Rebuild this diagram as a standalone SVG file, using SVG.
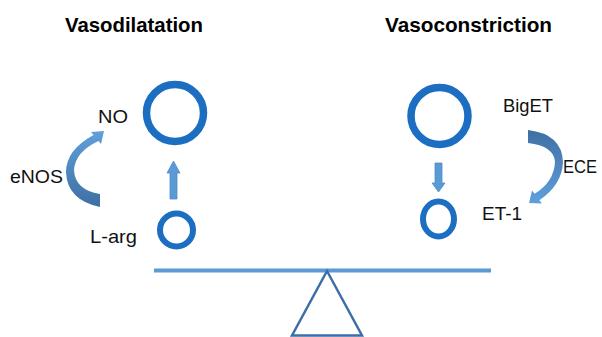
<svg xmlns="http://www.w3.org/2000/svg" width="602" height="337" viewBox="0 0 602 337">
<defs>
<style>
.title{font-family:"Liberation Sans",Arial,sans-serif;font-weight:bold;font-size:21px;fill:#000}
.lbl{font-family:"Liberation Sans",Arial,sans-serif;font-size:19px;fill:#111}
.ring{fill:none;stroke:#1b6ec2}
.straight{fill:#5b9bd5;stroke:#4f8ccb;stroke-width:0.8}
</style>
<linearGradient id="gUp" x1="0" y1="0" x2="0" y2="1">
<stop offset="0" stop-color="#5fa0dc"/>
<stop offset="1" stop-color="#3f6fa3"/>
</linearGradient>
<linearGradient id="gDown" x1="0" y1="0" x2="0" y2="1">
<stop offset="0" stop-color="#3f6fa3"/>
<stop offset="1" stop-color="#5fa0dc"/>
</linearGradient>
</defs>
<rect width="602" height="337" fill="#fff"/>
<g id="title-left"><text class="title" x="65" y="32" textLength="138" lengthAdjust="spacingAndGlyphs">Vasodilatation</text></g>
<g id="title-right"><text class="title" x="385" y="32" textLength="167" lengthAdjust="spacingAndGlyphs">Vasoconstriction</text></g>

<g id="no-big"><circle class="ring" cx="175" cy="113" r="28.5" stroke-width="7.5"/></g>
<g id="no-small"><circle class="ring" cx="176.5" cy="230" r="16.5" stroke-width="6"/></g>
<g id="et-big"><circle class="ring" cx="439.5" cy="116" r="28.5" stroke-width="7.5"/></g>
<g id="et-small"><ellipse class="ring" cx="438.5" cy="219" rx="15.5" ry="17.5" stroke-width="6"/></g>

<g id="label-NO"><text class="lbl" x="98" y="123" textLength="30" lengthAdjust="spacingAndGlyphs">NO</text></g>
<g id="label-eNOS"><text class="lbl" x="10" y="183" textLength="53" lengthAdjust="spacingAndGlyphs">eNOS</text></g>
<g id="label-Larg"><text class="lbl" x="90" y="243" textLength="47" lengthAdjust="spacingAndGlyphs">L-arg</text></g>
<g id="label-BigET"><text class="lbl" x="503" y="112" textLength="50" lengthAdjust="spacingAndGlyphs">BigET</text></g>
<g id="label-ECE"><text class="lbl" x="563" y="173" textLength="34" lengthAdjust="spacingAndGlyphs">ECE</text></g>
<g id="label-ET1"><text class="lbl" x="482" y="220" textLength="40" lengthAdjust="spacingAndGlyphs">ET-1</text></g>

<g id="connectors">
<path class="straight" d="M170 199 L170 173 L167 173 L173.5 161 L180 173 L177 173 L177 199 Z"/>
<path class="straight" d="M435 163 L442 163 L442 183 L445 183 L438.5 192 L432 183 L435 183 Z"/>
<path fill="url(#gUp)" d="M104 131 L91 132 L93.5 135 Q66 150 66 172 Q67 200 100 207 L100 194 Q75 190 74 170 Q75 152 98.5 141 L101 144 Z"/>
<path fill="url(#gDown)" d="M528 130 Q562 134 563 162 Q562 185 539.4 200.2 L542 203.4 L529 203 L532 190.6 L534.6 193.8 Q554 182 555 162 Q554 146 528 143 Z"/>
</g>

<g id="seesaw">
<rect x="154" y="268.5" width="337" height="4" fill="#5b9bd5"/>
<polygon points="327,271 292,335.5 362,335.5" fill="none" stroke="#3e6ea8" stroke-width="2.5" stroke-linejoin="miter"/>
</g>
</svg>
